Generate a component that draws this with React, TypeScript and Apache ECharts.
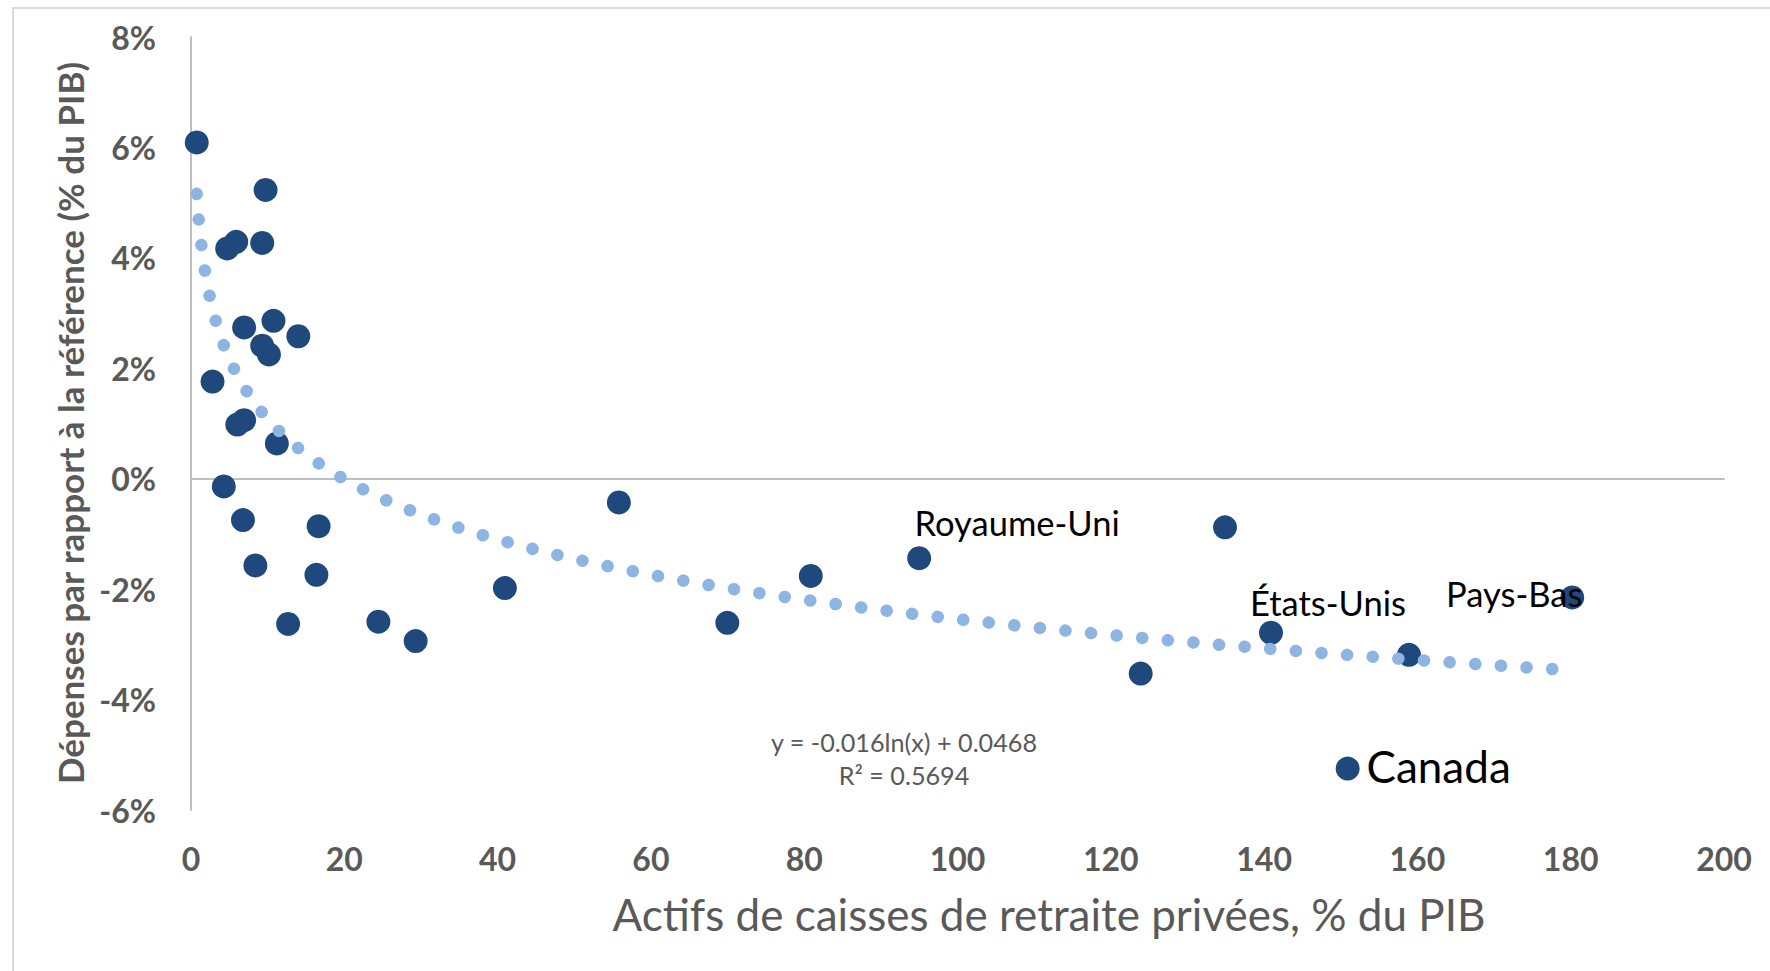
import React, { useEffect, useRef } from "react";
import * as echarts from "echarts";

// Private pension fund assets, % of GDP (x)
const assets = [
  0.75, 9.73, 5.9, 4.72, 9.29, 6.93, 10.76, 9.29, 10.17, 14.0, 2.81, 6.04, 6.93,
  11.2, 4.28, 6.78, 16.65, 8.4, 16.36, 12.67, 24.45, 29.31, 40.95, 55.82, 69.97,
  80.86, 95.0, 123.9, 134.9, 140.9, 158.9, 180.2, 150.9,
];
// Spending relative to baseline, % of GDP (y)
const spending = [
  6.09, 5.23, 4.29, 4.17, 4.27, 2.74, 2.86, 2.41, 2.25, 2.58, 1.76, 0.98, 1.06,
  0.64, -0.14, -0.75, -0.86, -1.57, -1.74, -2.63, -2.59, -2.94, -1.98, -0.43,
  -2.61, -1.76, -1.44, -3.53, -0.88, -2.79, -3.19, -2.15, -5.25,
];
// Country labels ("" = unlabelled point)
const countryLabels = [
  "", "", "", "", "", "", "", "", "", "", "", "", "", "", "", "", "", "", "", "",
  "", "", "", "", "", "", "Royaume-Uni", "", "", "États-Unis", "", "Pays-Bas", "Canada",
];

const xTitle = "Actifs de caisses de retraite privées, % du PIB";
const yTitle = "Dépenses par rapport à la référence (% du PIB)";
const equationText = "y = -0.016ln(x) + 0.0468";
const r2Text = "R² = 0.5694";

// label placement (style, not data)
const labelStyles: Record<string, { offset: [number, number]; fontSize: number }> = {
  "Royaume-Uni": { offset: [98, -36], fontSize: 34.5 },
  "États-Unis": { offset: [57, -30], fontSize: 34.5 },
  "Pays-Bas": { offset: [-58, -4], fontSize: 34.5 },
  Canada: { offset: [91, -3], fontSize: 44 },
};

const FONT = "Lato, 'Open Sans', sans-serif";
const DARK = "#1F497D";
const LIGHT = "#8DB4E2";
const GREY = "#595959";

function logFit(xs: number[], ys: number[]) {
  const n = xs.length;
  const L = xs.map((x) => Math.log(x));
  const mL = L.reduce((s, v) => s + v, 0) / n;
  const mY = ys.reduce((s, v) => s + v, 0) / n;
  let sxy = 0;
  let sxx = 0;
  for (let i = 0; i < n; i++) {
    sxy += (L[i] - mL) * (ys[i] - mY);
    sxx += (L[i] - mL) * (L[i] - mL);
  }
  const a = sxy / sxx;
  return { a, b: mY - a * mL };
}

export default function App() {
  const ref = useRef<HTMLDivElement>(null);

  useEffect(() => {
    if (!ref.current) return;
    const chart = echarts.init(ref.current, null, { renderer: "svg" });

    const { a, b } = logFit(assets, spending);
    const xmin = Math.min(...assets);
    const xmax = Math.max(...assets);
    const xs: number[] = [];
    const N = 300;
    for (let i = 0; i <= N; i++) {
      xs.push(xmin * Math.pow(xmax / xmin, i / N));
      xs.push(xmin + ((xmax - xmin) * i) / N);
    }
    xs.sort((p, q) => p - q);
    const trend = xs.map((x) => [x, a * Math.log(x) + b]);

    const scatterData = assets.map((x, i) => {
      const name = countryLabels[i];
      const item: any = { value: [x, spending[i]], name };
      if (name && labelStyles[name]) {
        item.label = {
          show: true,
          formatter: name,
          position: "inside",
          offset: labelStyles[name].offset,
          fontSize: labelStyles[name].fontSize,
          fontFamily: FONT,
          color: "#000000",
        };
      }
      return item;
    });

    chart.setOption({
      animation: false,
      backgroundColor: "#ffffff",
      grid: { left: 191, right: 46, top: 37, bottom: 161, containLabel: false },
      xAxis: [
        {
          type: "value",
          min: 0,
          max: 200,
          interval: 20,
          axisLine: { show: false, onZero: false },
          axisTick: { show: false },
          splitLine: { show: false },
          axisLabel: {
            margin: 32,
            fontSize: 32,
            fontWeight: "bold",
            fontFamily: FONT,
            color: GREY,
          },
        },
        {
          type: "value",
          min: 0,
          max: 200,
          position: "bottom",
          axisLine: { show: true, onZero: true, lineStyle: { color: "#BFBFBF", width: 2 } },
          axisTick: { show: false },
          axisLabel: { show: false },
          splitLine: { show: false },
        },
      ],
      yAxis: {
        type: "value",
        min: -6,
        max: 8,
        interval: 2,
        axisLine: { show: true, lineStyle: { color: "#BFBFBF", width: 2 } },
        axisTick: { show: false },
        splitLine: { show: false },
        axisLabel: {
          margin: 35,
          formatter: "{value}%",
          fontSize: 32,
          fontWeight: "bold",
          fontFamily: FONT,
          color: GREY,
          padding: [0, 0, 6, 0],
        },
      },
      series: [
        {
          type: "scatter",
          xAxisIndex: 0,
          symbol: "circle",
          symbolSize: 24,
          itemStyle: { color: DARK, opacity: 1 },
          data: scatterData,
          z: 2,
        },
        {
          type: "line",
          xAxisIndex: 0,
          data: trend,
          showSymbol: false,
          symbol: "none",
          smooth: false,
          lineStyle: { color: LIGHT, width: 12.5, type: [0.1, 25.6], cap: "round" },
          z: 3,
          silent: true,
        },
      ],
      graphic: [
        {
          type: "rect",
          shape: { x: 13, y: 8, width: 1800, height: 1000 },
          style: { fill: "none", stroke: "#D9D9D9", lineWidth: 2 },
          silent: true,
        },
        {
          type: "text",
          x: 70,
          y: 423,
          rotation: Math.PI / 2,
          style: {
            text: yTitle,
            fontSize: 35,
            fontWeight: "bold",
            fontFamily: FONT,
            fill: GREY,
            align: "center",
            verticalAlign: "middle",
          },
        },
        {
          type: "text",
          x: 1049,
          y: 914,
          style: {
            text: xTitle,
            fontSize: 44,
            fontFamily: FONT,
            fill: GREY,
            align: "center",
            verticalAlign: "middle",
          },
        },
        {
          type: "text",
          x: 904,
          y: 742,
          style: {
            text: equationText,
            fontSize: 25.2,
            fontFamily: FONT,
            fill: GREY,
            align: "center",
            verticalAlign: "middle",
          },
        },
        {
          type: "text",
          x: 904,
          y: 775,
          style: {
            text: r2Text,
            fontSize: 25.2,
            fontFamily: FONT,
            fill: GREY,
            align: "center",
            verticalAlign: "middle",
          },
        },
      ],
    });

    return () => chart.dispose();
  }, []);

  return (
    <div
      ref={ref}
      style={{ position: "fixed", left: 0, top: 0, width: 1770, height: 971, background: "#fff" }}
    />
  );
}
